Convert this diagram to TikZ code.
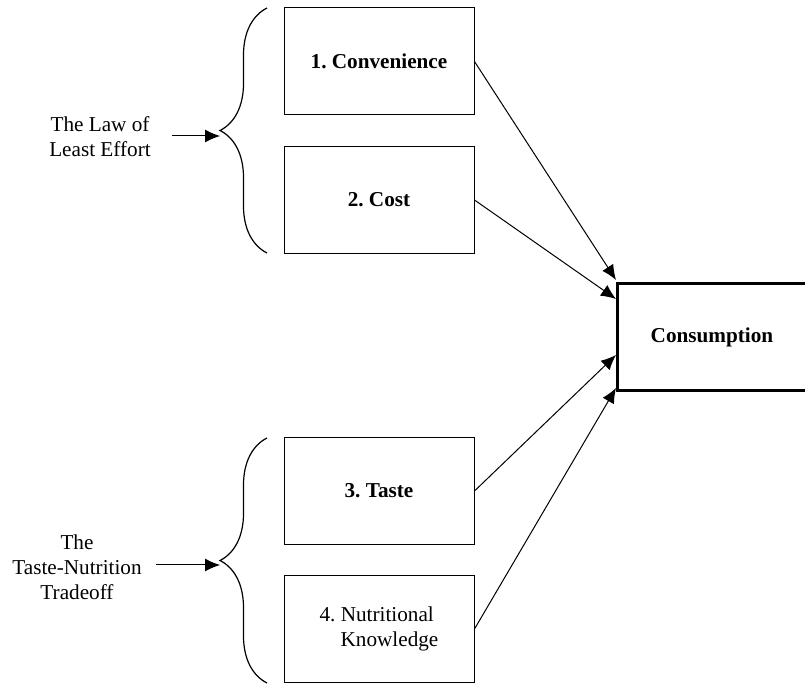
\documentclass[tikz,border=0pt]{standalone}
\usepackage{fontspec}
\setmainfont{Liberation Serif}
\usetikzlibrary{arrows.meta}
\usetikzlibrary{decorations.pathreplacing}
\frenchspacing

\tikzset{
  txt/.style={font=\fontsize{10.6}{12.5}\selectfont},
  factor/.style={txt, draw, line width=0.5pt, rectangle, minimum width=95pt, minimum height=53.5pt, inner sep=2pt, align=left},
  bigbrace/.style={decorate, decoration={brace, amplitude=23.5pt}, line width=0.6pt},
}

\begin{document}
\begin{tikzpicture}[x=0.5pt, y=-0.5pt]
    \begin{scope}[>={Latex[length=7.5pt,width=6.5pt]}] %for filled arrow tips

      % defines
      \pgfmathsetmacro\BoxXCoord{(379)} % box X-Koordinate
      \pgfmathsetmacro\BraceXCoord{(267)} % brace X-Koordinate
      \pgfmathsetmacro\TipXCoord{(220)} % brace tip X-Koordinate
      \pgfmathsetmacro\ConsXCoord{(616)} % Consumption arrow tips

      \clip (0,0) rectangle (805,684);

      % draw the four factor boxes
      \node (CONV) at (\BoxXCoord, 61.5) [factor] {\textbf{1. Convenience}};
      \node (COST) at (\BoxXCoord, 200) [factor] {\textbf{2. Cost}};
      \node (TASTE) at (\BoxXCoord, 491) [factor] {\textbf{3. Taste}};
      \node (NUTR) at (\BoxXCoord, 629) [factor] {4. Nutritional\\\hspace*{10.5pt}Knowledge};

      % draw Consumption box (right side runs off the page)
      \node (CONS) at (712, 337.5) [factor, line width=1.5pt] {\textbf{Consumption}};

      % braces and their labels
      \draw[bigbrace] (\BraceXCoord, 253) -- (\BraceXCoord, 8);
      \draw[bigbrace] (\BraceXCoord, 683) -- (\BraceXCoord, 438);
      \coordinate (BR1) at (\TipXCoord, 136);
      \coordinate (BR2) at (\TipXCoord, 565);

      \node (LAW) at (100, 137) [txt, align=center] {The Law of\\Least Effort};
      \node (TRADE) at (77, 567) [txt, align=center] {The\\Taste-Nutrition\\Tradeoff};
      \coordinate (LAWout) at (172, 136);
      \coordinate (TRADEout) at (156, 565);
      \draw[->, line width=0.5pt] (LAWout) -- (BR1);
      \draw[->, line width=0.5pt] (TRADEout) -- (BR2);

      % connection lines factor -> Consumption
      \coordinate (IN1) at (\ConsXCoord, 280);
      \coordinate (IN2) at (\ConsXCoord, 299);
      \coordinate (IN3) at (\ConsXCoord, 355);
      \coordinate (IN4) at (\ConsXCoord, 388);
      \draw[->, line width=0.5pt] (CONV.east) -- (IN1);
      \draw[->, line width=0.5pt] (COST.east) -- (IN2);
      \draw[->, line width=0.5pt] (TASTE.east) -- (IN3);
      \draw[->, line width=0.5pt] (NUTR.east) -- (IN4);

    \end{scope}
  \end{tikzpicture}
\end{document}
